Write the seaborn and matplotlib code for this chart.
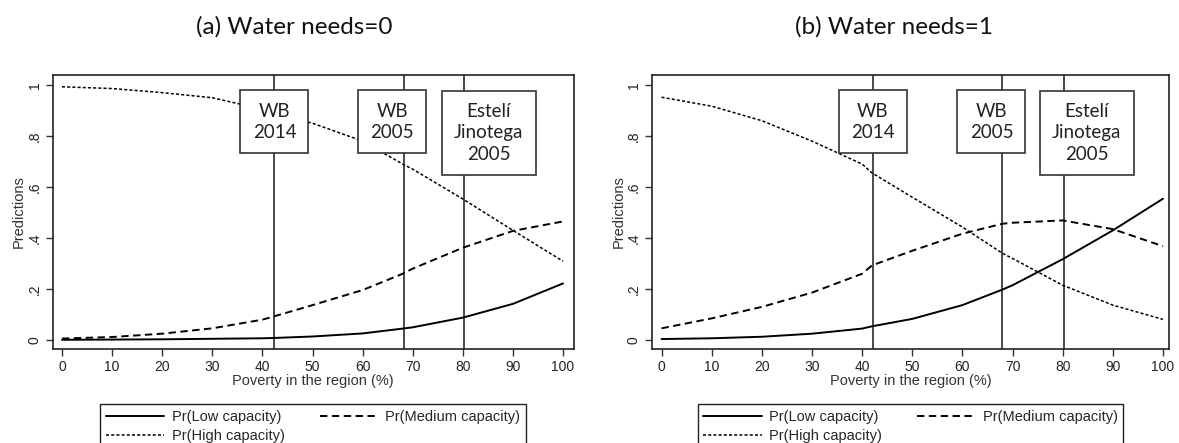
import matplotlib
matplotlib.use("Agg")
import matplotlib.pyplot as plt
import seaborn as sns
import pandas as pd

# poverty grid (%)
poverty = [0, 10, 20, 30, 40, 42, 50, 60, 68, 70, 80, 90, 100]

# (a) Water needs = 0
low_a = [0.001, 0.002, 0.003, 0.005, 0.007, 0.008, 0.014, 0.026, 0.045, 0.05, 0.088, 0.142, 0.222]
med_a = [0.006, 0.012, 0.025, 0.046, 0.08, 0.091, 0.137, 0.196, 0.26, 0.28, 0.362, 0.428, 0.465]
high_a = [0.993, 0.986, 0.97, 0.95, 0.905, 0.89, 0.85, 0.78, 0.69, 0.67, 0.553, 0.43, 0.309]

# (b) Water needs = 1
low_b = [0.004, 0.007, 0.013, 0.025, 0.045, 0.054, 0.083, 0.137, 0.198, 0.215, 0.317, 0.43, 0.554]
med_b = [0.046, 0.085, 0.13, 0.186, 0.26, 0.293, 0.35, 0.417, 0.456, 0.46, 0.469, 0.435, 0.368]
high_b = [0.952, 0.917, 0.86, 0.78, 0.69, 0.655, 0.56, 0.443, 0.34, 0.32, 0.215, 0.137, 0.081]

panel_titles = ["(a) Water needs=0", "(b) Water needs=1"]
ref_lines = [[42.3, 68.2, 80.3], [42.2, 68.0, 80.3]]
ref_labels = ["WB\n2014", "WB\n2005", "Estelí\nJinotega\n2005"]
ref_label_x = [[42.4, 65.9, 85.2], [42.1, 65.8, 84.8]]
series_names = ["Pr(Low capacity)", "Pr(Medium capacity)", "Pr(High capacity)"]

sns.set_theme(style="ticks")
plt.rcParams["font.family"] = ["Liberation Sans", "DejaVu Sans"]

fig = plt.figure(figsize=(11.79, 4.43), dpi=100)
axes = [fig.add_axes([0.0447, 0.2122, 0.4418, 0.619]),
        fig.add_axes([0.553, 0.2122, 0.4385, 0.619])]
xlims = [(-1.85, 102.1), (-1.9, 101.2)]
title_x = [294 / 1179, 894 / 1179]

styles = [dict(linestyle="-", linewidth=1.4),
          dict(linestyle=(0, (3.8, 2.3)), linewidth=1.4),
          dict(linestyle=(0, (2.0, 1.4)), linewidth=1.1)]

data = [(low_a, med_a, high_a), (low_b, med_b, high_b)]

for i, ax in enumerate(axes):
    df = pd.DataFrame({"poverty": poverty, "low": data[i][0],
                       "med": data[i][1], "high": data[i][2]})
    for col, name, st in zip(["low", "med", "high"], series_names, styles):
        sns.lineplot(data=df, x="poverty", y=col, ax=ax, color="black",
                     label=name, zorder=3, **st)
    for xv in ref_lines[i]:
        ax.axvline(xv, color="#3a3a3a", linewidth=1.3, zorder=2)
    # annotation boxes
    for xt, txt in zip(ref_label_x[i], ref_labels):
        ypos = 0.856 if txt.count("\n") == 1 else 0.812
        ax.text(xt, ypos, txt, ha="center", va="center", fontsize=13.5,
                fontfamily="Lato", color="#222222", zorder=5,
                linespacing=1.3,
                bbox=dict(boxstyle="square,pad=0.65", facecolor="white",
                          edgecolor="#333333", linewidth=1.2))
    ax.set_xlim(*xlims[i])
    ax.set_ylim(-0.035, 1.04)
    ax.set_xticks(range(0, 101, 10))
    ax.set_yticks([0, 0.2, 0.4, 0.6, 0.8, 1])
    ax.set_yticklabels(["0", ".2", ".4", ".6", ".8", "1"], rotation=90, va="center")
    ax.tick_params(axis="both", direction="out", length=5, width=1,
                   color="#333333", labelsize=10, labelcolor="#222222", pad=3)
    ax.set_xlabel("Poverty in the region (%)", fontsize=10.5, color="#333333", labelpad=0)
    ax.set_ylabel("Predictions", fontsize=10.5, color="#333333", labelpad=1)
    for sp in ax.spines.values():
        sp.set_visible(True)
        sp.set_color("#222222")
        sp.set_linewidth(1.2)
    h, l = ax.get_legend_handles_labels()
    order = [0, 2, 1]
    ax.legend([h[k] for k in order], [l[k] for k in order],
              loc="upper center", bbox_to_anchor=(0.5, -0.175), ncol=2,
              frameon=True, fancybox=False, edgecolor="#222222",
              fontsize=10.5, handlelength=4.0, handletextpad=0.5,
              columnspacing=2.4, borderpad=0.4, labelspacing=0.35,
              framealpha=1)
    ax.get_legend().get_frame().set_linewidth(1.0)
    fig.text(title_x[i], 1 - 27 / 443, panel_titles[i], ha="center", va="center",
             fontsize=17.5, fontfamily="Lato", color="#111111")

fig.savefig("out.png", dpi=100)
